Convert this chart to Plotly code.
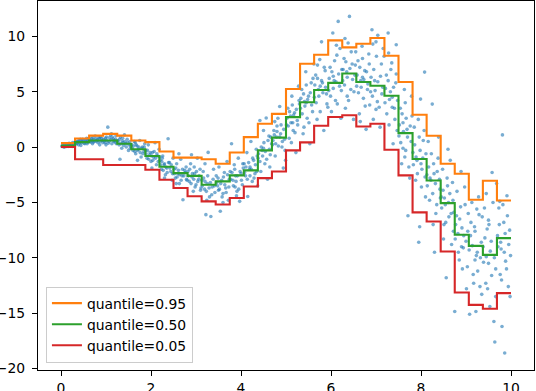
import plotly.graph_objects as go

# ---- step (bin) edges of the quantile models ----
step_x = [0.0, 0.3125, 0.625, 0.9375, 1.25, 1.5625, 1.875, 2.1875, 2.5, 2.8125,
          3.125, 3.4375, 3.75, 4.0625, 4.375, 4.6875, 5.0, 5.3125, 5.625, 5.9375,
          6.25, 6.5625, 6.875, 7.1875, 7.5, 7.8125, 8.125, 8.4375, 8.75, 9.0625,
          9.375, 9.6875, 10.0]

q95 = [0.36, 0.78, 1.03, 1.19, 1.03, 0.6, 0.45, -0.4, -0.95, -0.95,
       -1.1, -1.5, -0.49, 0.9, 2.1, 3.0, 5.24, 7.52, 8.34, 9.63,
       9.0, 9.33, 9.85, 8.25, 5.87, 2.92, 1.02, -1.51, -2.41, -4.76,
       -3.04, -4.82, -4.82]
q50 = [0.12, 0.45, 0.6, 0.6, 0.3, -0.2, -0.8, -1.78, -2.35, -2.6,
       -3.4, -3.1, -2.56, -2.1, -0.3, 0.85, 2.7, 4.05, 5.15, 5.8,
       6.65, 5.87, 5.54, 4.63, 1.26, -1.08, -3.02, -5.06, -7.92, -8.92,
       -9.73, -8.22, -8.22]
q05 = [0.0, -1.1, -1.1, -1.62, -1.62, -1.62, -2.05, -2.95, -3.7, -4.44,
       -4.9, -5.18, -4.6, -3.56, -2.8, -2.2, -0.3, 0.42, 1.92, 2.71,
       2.88, 1.86, 2.1, -0.24, -2.56, -5.9, -6.72, -9.43, -13.13, -14.25,
       -14.6, -13.19, -13.19]

pts_outer = [
    (0.02,0.05),(0.05,0.1),(0.08,0.0),(0.11,0.2),(0.14,0.15),(0.17,0.3),(0.2,0.1),(0.23,0.25),(0.26,0.4),(0.29,0.2),(0.12,0.05),(0.25,0.05),
    (0.33,0.3),(0.36,0.5),(0.39,0.2),(0.42,0.6),(0.45,0.4),(0.48,0.7),(0.51,0.35),(0.54,0.55),(0.57,0.8),(0.6,0.45),(0.44,0.15),(0.58,0.3),
    (0.64,0.5),(0.67,0.8),(0.7,0.3),(0.73,0.65),(0.76,1.0),(0.79,0.55),(0.82,0.4),(0.85,0.75),(0.88,0.9),(0.91,0.6),(0.72,0.45),(0.86,0.2),
    (0.95,0.7),(0.98,0.4),(1.01,0.9),(1.04,1.8),(1.07,0.5),(1.1,1.1),(1.13,0.3),(1.16,0.75),(1.19,0.6),(1.22,1.0),(1.0,0.2),(1.2,0.45),
    (1.26,0.6),(1.29,0.2),(1.32,0.9),(1.35,-0.1),(1.38,0.4),(1.41,1.1),(1.44,0.3),(1.47,0.7),(1.5,-0.3),(1.53,0.5),(1.55,0.1),(1.31,-1.1),
    (1.57,0.2),(1.6,-0.3),(1.63,0.5),(1.66,-0.6),(1.69,0.1),(1.72,-0.2),(1.75,0.6),(1.78,-0.9),(1.81,0.0),(1.84,-0.4),(1.86,0.3),(1.7,-1.2),
    (1.88,-0.3),(1.91,-1.0),(1.94,0.2),(1.97,-0.7),(2.0,-1.3),(2.03,-0.5),(2.06,-0.9),(2.09,0.4),(2.12,-1.6),(2.15,-0.8),(2.18,-0.2),(2.02,-1.9),
    (2.2,-1.2),(2.23,-2.0),(2.26,-0.8),(2.29,-1.6),(2.32,-2.5),(2.35,-1.9),(2.38,0.75),(2.41,-1.4),(2.44,-2.2),(2.47,-3.0),(2.49,-1.0),(2.3,-2.8),
    (2.51,-2.0),(2.54,-2.8),(2.57,-1.5),(2.6,-2.4),(2.63,-3.3),(2.66,-1.1),(2.69,-2.6),(2.71,-4.76),(2.75,-2.1),(2.78,-1.8),(2.8,-3.0),(2.62,-0.6),
    (2.82,-2.2),(2.85,-3.1),(2.88,-1.5),(2.91,-2.7),(2.94,-4.0),(2.97,-2.4),(3.0,-3.4),(3.03,-1.0),(3.06,-2.9),(3.09,-2.0),(3.11,-3.7),(2.9,-0.7),
    (3.13,-3.0),(3.16,-2.2),(3.19,-3.8),(3.22,-6.1),(3.25,-3.3),(3.27,-0.48),(3.3,-4.5),(3.33,-6.27),(3.36,-3.6),(3.39,-2.0),(3.42,-4.1),(3.2,-1.5),
    (3.45,-2.6),(3.48,-3.5),(3.51,-1.8),(3.54,-5.8),(3.57,-3.0),(3.6,-4.2),(3.63,-2.3),(3.66,-3.7),(3.69,-1.3),(3.72,-4.8),(3.74,-2.9),(3.5,-3.9),
    (3.76,-2.2),(3.79,0.3),(3.82,-3.0),(3.85,-1.6),(3.88,-2.6),(3.91,-4.0),(3.94,-1.0),(3.97,-4.9),(4.0,-2.4),(4.03,-3.4),(4.05,-1.9),(3.87,-3.6),
    (4.07,-1.5),(4.1,-2.6),(4.13,-0.5),(4.15,-4.46),(4.19,-2.0),(4.22,0.5),(4.25,-3.1),(4.28,-1.2),(4.31,-2.4),(4.34,-0.2),(4.37,-3.5),(4.2,-1.8),
    (4.38,-1.0),(4.42,2.4),(4.44,-2.2),(4.47,-0.3),(4.5,1.5),(4.53,-1.5),(4.56,2.62),(4.59,-2.9),(4.62,1.0),(4.65,-0.7),(4.68,0.3),(4.5,-0.1),
    (4.7,0.2),(4.73,1.5),(4.76,-0.8),(4.79,0.9),(4.82,2.6),(4.86,3.67),(4.88,1.2),(4.91,0.0),(4.94,-1.9),(4.97,0.7),(4.99,-1.2),(4.8,1.9),
    (5.01,2.0),(5.04,3.5),(5.07,0.8),(5.1,2.8),(5.13,4.6),(5.16,1.5),(5.19,3.1),(5.22,-0.5),(5.25,2.4),(5.28,5.5),(5.3,3.9),(5.15,2.2),
    (5.32,3.5),(5.35,5.2),(5.38,1.2),(5.41,4.1),(5.44,6.8),(5.47,2.6),(5.5,4.6),(5.53,0.3),(5.56,5.8),(5.59,3.2),(5.62,7.5),(5.45,4.0),
    (5.63,4.5),(5.66,6.5),(5.69,2.5),(5.72,5.2),(5.75,7.9),(5.79,9.5),(5.81,5.8),(5.84,1.5),(5.87,6.9),(5.9,4.8),(5.93,3.6),(5.76,5.5),
    (5.95,5.1),(5.98,7.2),(6.01,3.2),(6.04,10.3),(6.07,6.0),(6.1,4.2),(6.13,8.3),(6.16,11.35),(6.19,5.5),(6.22,2.6),(6.24,7.0),(6.05,6.4),
    (6.26,6.0),(6.29,8.0),(6.32,3.5),(6.35,6.8),(6.38,9.4),(6.41,11.8),(6.44,5.2),(6.47,7.5),(6.5,2.5),(6.53,6.5),(6.55,8.6),(6.36,4.6),
    (6.57,5.5),(6.6,7.8),(6.63,3.0),(6.66,6.0),(6.69,9.1),(6.72,4.4),(6.75,6.9),(6.78,1.6),(6.81,5.2),(6.84,8.4),(6.86,3.8),(6.7,6.3),
    (6.88,5.0),(6.91,10.6),(6.94,2.5),(6.97,6.0),(7.0,9.5),(7.03,4.1),(7.04,10.1),(7.09,1.8),(7.12,7.5),(7.15,5.4),(7.18,8.2),(7.0,3.4),
    (7.2,4.0),(7.23,6.5),(7.27,10.3),(7.29,2.0),(7.32,5.0),(7.35,7.6),(7.38,0.3),(7.41,3.5),(7.44,5.8),(7.45,9.24),(7.47,1.5),(7.36,4.5),
    (7.51,1.0),(7.54,3.5),(7.57,-1.5),(7.6,2.2),(7.63,5.2),(7.66,-0.3),(7.69,1.6),(7.71,-6.2),(7.75,-2.8),(7.78,0.5),(7.8,2.8),(7.65,4.0),
    (7.82,-0.5),(7.85,1.8),(7.88,-3.0),(7.91,-1.2),(7.94,2.5),(7.95,-8.6),(7.97,-7.2),(7.99,4.33),(8.02,-2.0),(8.05,0.6),(8.08,6.77),(8.1,-4.5),(8.0,-1.5),
    (8.13,-2.5),(8.16,0.5),(8.19,-4.8),(8.22,-3.0),(8.25,3.88),(8.28,-1.5),(8.3,-9.5),(8.33,-6.0),(8.36,-2.2),(8.39,0.9),(8.42,-3.8),(8.27,-7.0),
    (8.45,-4.5),(8.48,-2.0),(8.51,-7.0),(8.54,-5.2),(8.56,-11.8),(8.59,-3.5),(8.62,-6.3),(8.65,-1.2),(8.68,-8.8),(8.71,-4.8),(8.73,-5.9),(8.6,-0.2),
    (8.75,-14.85),(8.77,-7.0),(8.8,-4.0),(8.83,-9.5),(8.86,-6.5),(8.89,-2.2),(8.92,-11.0),(8.95,-8.0),(8.98,-5.2),(9.01,-12.8),(9.04,-7.6),(8.9,-9.0),
    (9.08,-15.1),(9.1,-8.0),(9.13,-5.0),(9.16,-11.5),(9.19,-7.2),(9.22,-14.85),(9.25,-9.5),(9.28,-4.5),(9.31,-12.6),(9.34,-8.6),(9.36,-6.3),(9.2,-10.2),
    (9.38,-9.0),(9.41,-5.5),(9.44,-12.3),(9.47,-7.4),(9.5,-10.5),(9.53,-14.4),(9.56,-8.5),(9.58,-2.3),(9.62,-15.75),(9.64,-17.6),(9.66,-11.0),(9.68,-3.3),(9.5,-6.6),
    (9.7,-8.0),(9.73,-5.5),(9.76,-11.5),(9.78,-9.2),(9.8,-16.2),(9.81,1.1),(9.84,-6.8),(9.86,-18.6),(9.88,-10.3),(9.91,-4.4),(9.94,-12.6),(9.97,-7.5),(9.99,-9.8),
]

# ---- observed samples: dense core around the median ----
pts_core = [
    (0.03,0.15),(0.07,0.2),(0.1,0.1),(0.16,0.05),(0.19,0.25),(0.22,0.15),(0.27,0.3),(0.3,0.35),(0.06,0.0),(0.18,0.35),
    (0.32,0.45),(0.35,0.3),(0.38,0.55),(0.41,0.4),(0.43,0.7),(0.47,0.5),(0.5,0.6),(0.53,0.3),(0.56,0.65),(0.59,0.5),(0.61,0.75),
    (0.63,0.7),(0.66,0.45),(0.69,0.6),(0.71,0.85),(0.75,0.5),(0.78,0.75),(0.81,0.65),(0.84,0.9),(0.87,0.5),(0.9,0.8),(0.93,0.4),
    (0.96,0.55),(0.99,0.8),(1.02,0.6),(1.05,0.35),(1.08,0.85),(1.11,0.65),(1.14,0.9),(1.17,0.5),(1.21,0.7),(1.23,0.3),(1.12,1.2),
    (1.27,0.45),(1.3,0.7),(1.33,0.3),(1.36,0.55),(1.39,0.15),(1.42,0.5),(1.45,0.0),(1.48,0.4),(1.51,0.2),(1.54,-0.1),(1.37,0.8),
    (1.58,-0.1),(1.61,0.1),(1.64,-0.4),(1.67,0.2),(1.7,-0.3),(1.73,0.0),(1.76,-0.5),(1.79,-0.1),(1.82,-0.6),(1.85,0.0),(1.65,0.4),
    (1.89,-0.6),(1.92,-0.3),(1.95,-1.1),(1.98,-0.5),(2.01,-0.8),(2.04,-1.2),(2.07,-0.4),(2.1,-1.0),(2.13,-0.6),(2.16,-1.3),(2.19,-0.9),
    (2.21,-1.6),(2.24,-1.3),(2.27,-2.1),(2.3,-1.5),(2.33,-1.8),(2.36,-2.3),(2.39,-1.4),(2.42,-1.9),(2.45,-1.6),(2.48,-2.4),(2.25,-1.0),
    (2.52,-2.4),(2.55,-1.9),(2.58,-2.7),(2.61,-2.1),(2.64,-2.5),(2.67,-3.0),(2.7,-2.0),(2.73,-2.6),(2.76,-2.3),(2.79,-2.9),(2.56,-3.3),
    (2.83,-2.6),(2.86,-2.0),(2.89,-3.3),(2.92,-2.4),(2.95,-2.9),(2.98,-3.6),(3.01,-2.2),(3.04,-3.1),(3.07,-2.6),(3.1,-3.9),(2.96,-1.8),
    (3.14,-3.5),(3.17,-2.8),(3.2,-3.1),(3.23,-4.0),(3.26,-2.6),(3.29,-3.7),(3.32,-3.2),(3.35,-4.3),(3.38,-2.9),(3.41,-3.5),(3.24,-4.8),
    (3.46,-3.2),(3.49,-2.8),(3.52,-3.8),(3.55,-3.3),(3.58,-4.5),(3.61,-2.7),(3.64,-3.4),(3.67,-4.1),(3.7,-2.5),(3.73,-3.6),(3.6,-5.0),
    (3.77,-2.9),(3.8,-2.3),(3.83,-3.5),(3.86,-2.0),(3.89,-3.1),(3.92,-2.6),(3.95,-3.8),(3.98,-2.2),(4.01,-3.0),(4.04,-1.5),(3.9,-4.4),
    (4.08,-2.3),(4.11,-1.8),(4.14,-2.9),(4.17,-1.4),(4.2,-2.6),(4.23,-2.0),(4.26,-1.0),(4.29,-2.8),(4.32,-1.6),(4.35,-2.2),(4.36,-0.8),
    (4.39,-0.6),(4.42,-1.3),(4.45,0.0),(4.48,-0.8),(4.51,0.4),(4.54,-0.4),(4.57,-1.1),(4.6,0.6),(4.63,-0.2),(4.66,0.9),(4.64,-1.8),
    (4.71,0.6),(4.74,1.1),(4.77,0.3),(4.8,1.4),(4.83,0.1),(4.86,0.9),(4.89,2.0),(4.92,0.5),(4.95,1.6),(4.98,-0.3),(4.75,2.3),
    (5.02,2.6),(5.05,1.9),(5.08,3.2),(5.11,2.2),(5.14,3.8),(5.17,2.9),(5.2,1.3),(5.23,3.4),(5.26,2.0),(5.29,4.2),(5.12,0.4),
    (5.33,4.4),(5.36,3.0),(5.39,4.8),(5.42,3.7),(5.45,5.6),(5.48,4.3),(5.51,2.2),(5.54,4.9),(5.57,3.8),(5.6,6.2),(5.4,1.8),
    (5.64,5.6),(5.67,4.0),(5.7,6.2),(5.73,4.6),(5.76,3.2),(5.79,6.0),(5.82,4.9),(5.85,7.2),(5.88,5.4),(5.91,3.9),(5.7,7.4),
    (5.96,6.2),(5.99,4.6),(6.02,6.8),(6.05,5.3),(6.08,7.8),(6.11,5.9),(6.14,3.9),(6.17,6.6),(6.2,8.9),(6.23,5.1),(6.12,9.2),
    (6.27,7.0),(6.3,5.6),(6.33,7.7),(6.36,6.3),(6.39,4.2),(6.42,7.1),(6.45,8.6),(6.48,6.1),(6.51,5.0),(6.54,7.4),(6.31,9.8),
    (6.58,6.5),(6.61,4.9),(6.64,7.2),(6.67,5.4),(6.7,8.0),(6.73,6.1),(6.76,3.7),(6.79,6.8),(6.82,5.7),(6.85,7.5),(6.65,2.3),
    (6.89,6.3),(6.92,4.6),(6.95,7.0),(6.98,5.1),(7.01,8.2),(7.04,5.9),(7.07,3.6),(7.1,6.4),(7.13,4.8),(7.16,8.9),(6.93,9.3),
    (7.21,5.3),(7.24,3.0),(7.27,6.0),(7.3,4.3),(7.33,7.0),(7.36,3.6),(7.39,5.4),(7.42,2.5),(7.45,6.6),(7.48,4.2),(7.28,8.5),
    (7.52,2.0),(7.55,0.4),(7.58,3.0),(7.61,1.4),(7.64,-0.9),(7.67,2.6),(7.7,0.9),(7.73,-1.8),(7.76,1.9),(7.79,4.6),(7.6,-0.1),
    (7.83,-1.6),(7.86,0.2),(7.89,-0.9),(7.92,-2.4),(7.96,0.9),(7.98,-0.3),(8.01,-3.6),(8.04,-1.0),(8.07,1.5),(8.09,-2.7),(8.11,-0.6),
    (8.14,-3.5),(8.17,-1.8),(8.2,-2.8),(8.23,-0.6),(8.26,-4.2),(8.29,-2.4),(8.32,-3.3),(8.35,-5.2),(8.38,-1.0),(8.41,-2.9),(8.43,-4.6),
    (8.46,-5.5),(8.49,-3.9),(8.52,-4.6),(8.55,-6.8),(8.58,-2.8),(8.61,-5.0),(8.64,-4.2),(8.67,-6.0),(8.7,-3.2),(8.72,-7.6),(8.5,-8.3),
    (8.76,-8.3),(8.79,-6.2),(8.82,-7.8),(8.85,-10.2),(8.88,-5.4),(8.91,-7.3),(8.94,-9.1),(8.97,-3.6),(9.0,-8.5),(9.03,-10.8),(9.05,-6.0),
    (9.07,-9.3),(9.11,-6.8),(9.14,-8.9),(9.17,-12.3),(9.2,-7.6),(9.23,-9.8),(9.26,-11.2),(9.29,-6.1),(9.32,-10.0),(9.35,-13.3),(9.24,-5.6),
    (9.39,-10.4),(9.42,-8.2),(9.45,-9.9),(9.48,-12.8),(9.51,-7.0),(9.54,-9.4),(9.57,-11.6),(9.6,-5.0),(9.63,-10.0),(9.66,-13.5),(9.45,-4.2),
    (9.71,-9.0),(9.74,-7.0),(9.77,-8.6),(9.79,-12.0),(9.82,-5.2),(9.85,-9.5),(9.87,-7.8),(9.9,-11.0),(9.92,-6.2),(9.95,-8.8),(9.98,-13.5),(9.75,-4.9),
]

obs_x = [p[0] for p in pts_outer + pts_core]
obs_y = [p[1] for p in pts_outer + pts_core]

x_ticks = [0, 2, 4, 6, 8, 10]
y_ticks = [-20, -15, -10, -5, 0, 5, 10]

FONT = 13.9

fig = go.Figure()
fig.add_trace(go.Scatter(
    x=obs_x, y=obs_y, mode="markers", showlegend=False,
    marker=dict(size=3.6, color="#1f77b4", opacity=0.6, line=dict(width=0)),
))
for name, vals, col in [("quantile=0.95", q95, "#ff7f0e"),
                        ("quantile=0.50", q50, "#2ca02c"),
                        ("quantile=0.05", q05, "#d62728")]:
    fig.add_trace(go.Scatter(
        x=step_x, y=vals, mode="lines", name=name,
        line=dict(color=col, width=2.1, shape="hv"),
    ))

axis_common = dict(
    showgrid=False, zeroline=False, showline=True, linecolor="black",
    linewidth=1.1, mirror=True, ticks="outside", ticklen=5, tickwidth=1.1,
    tickcolor="black", automargin=False,
    tickfont=dict(family="DejaVu Sans", size=FONT, color="black"),
)
fig.update_xaxes(range=[-0.511, 10.511], tickvals=x_ticks, **axis_common)
fig.update_yaxes(range=[-20.13, 13.19], tickvals=y_ticks, ticklabelstandoff=4,
                 **axis_common)

fig.update_layout(
    width=536, height=391,
    margin=dict(l=38, r=2, t=1, b=21),
    plot_bgcolor="white", paper_bgcolor="white",
    font=dict(family="DejaVu Sans", size=FONT, color="black"),
    legend=dict(
        x=0.016, y=0.02, xanchor="left", yanchor="bottom",
        bgcolor="rgba(255,255,255,0.8)", bordercolor="#cccccc", borderwidth=1,
        font=dict(family="DejaVu Sans", size=FONT, color="black"),
        tracegroupgap=0,
    ),
)

fig.write_html(
    "out.html",
    config={"displayModeBar": False, "responsive": False},
    post_script="document.body.style.margin='0px';document.body.style.overflow='hidden';",
)
